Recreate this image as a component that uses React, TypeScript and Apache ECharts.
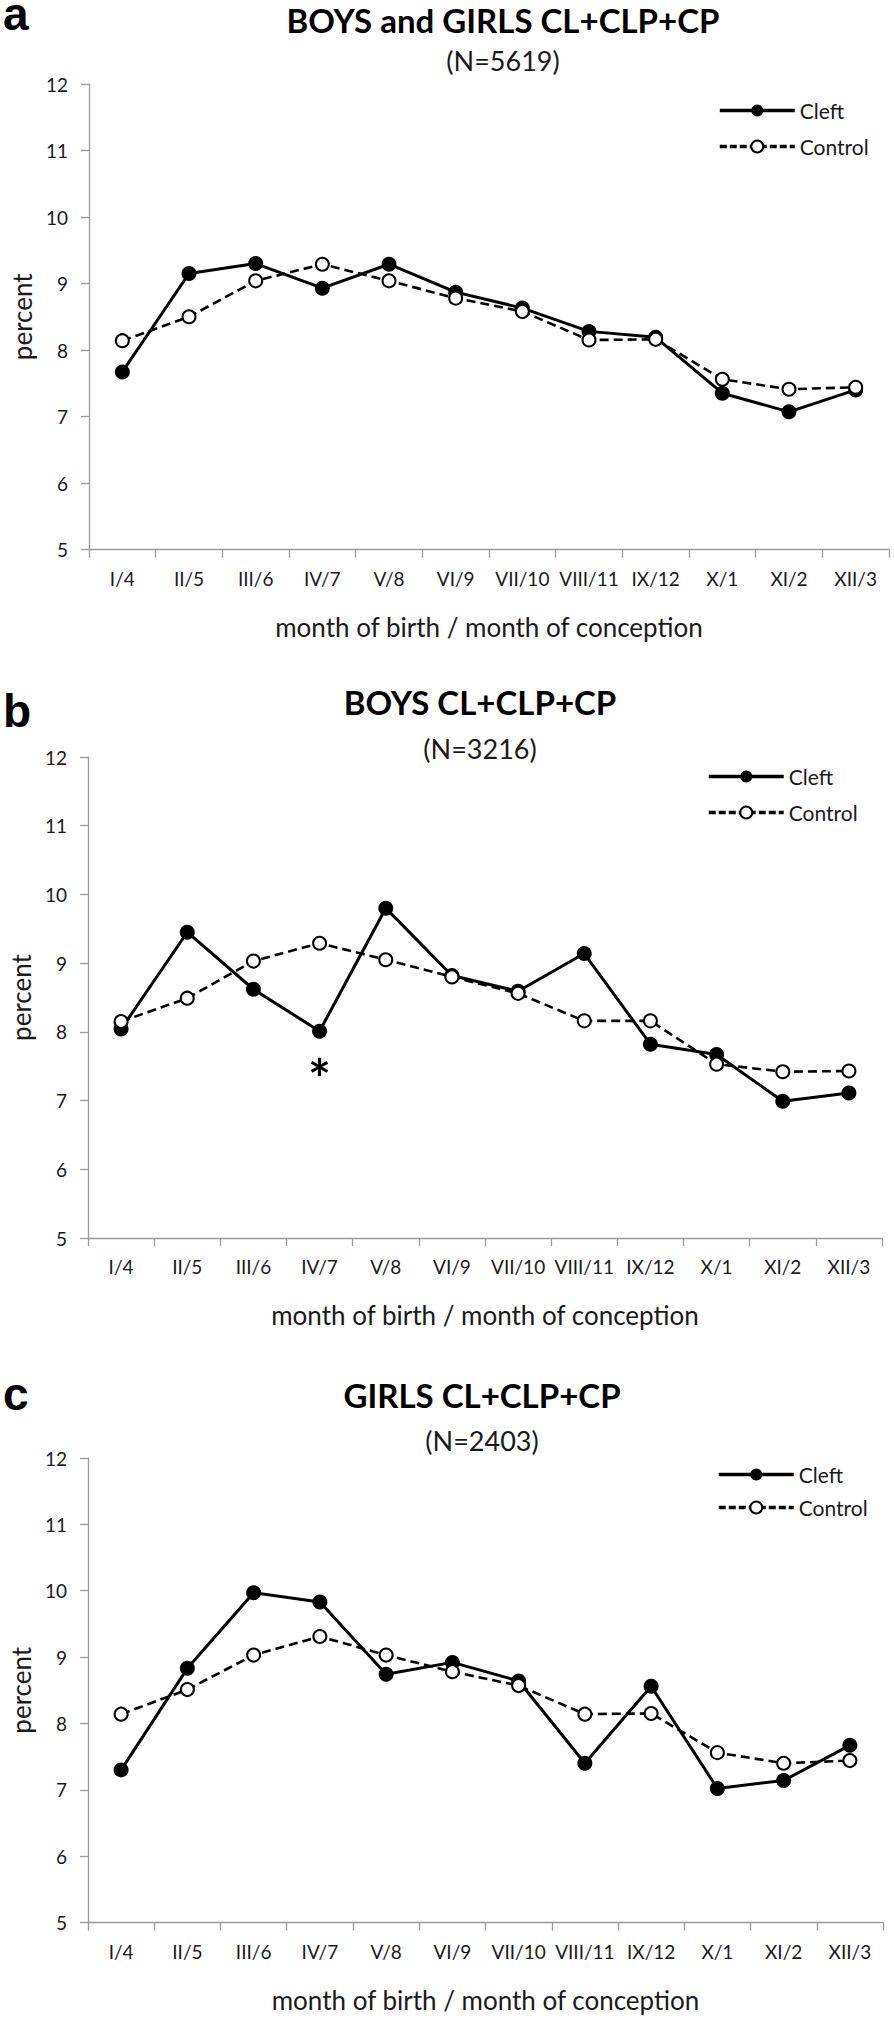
import React, { useEffect, useRef } from "react";
import * as echarts from "echarts";

const categories = ["I/4", "II/5", "III/6", "IV/7", "V/8", "VI/9", "VII/10", "VIII/11", "IX/12", "X/1", "XI/2", "XII/3"];
const seriesNames = ["Cleft", "Control"];
const panelLetters = ["a", "b", "c"];
const panelTitles = ["BOYS and GIRLS CL+CLP+CP", "BOYS CL+CLP+CP", "GIRLS CL+CLP+CP"];
const panelSubtitles = ["(N=5619)", "(N=3216)", "(N=2403)"];
const xAxisTitle = "month of birth / month of conception";
const yAxisTitle = "percent";
const yMin = 5;
const yMax = 12;
const yStep = 1;

const cleftA = [7.67, 9.15, 9.3, 8.93, 9.29, 8.87, 8.63, 8.28, 8.19, 7.35, 7.07, 7.4];
const controlA = [8.14, 8.5, 9.04, 9.29, 9.04, 8.78, 8.58, 8.15, 8.16, 7.56, 7.41, 7.44];
const cleftB = [8.04, 9.45, 8.62, 8.01, 9.8, 8.82, 8.59, 9.14, 7.82, 7.67, 6.99, 7.11];
const controlB = [8.15, 8.49, 9.03, 9.29, 9.05, 8.8, 8.56, 8.16, 8.16, 7.53, 7.42, 7.43];
const cleftC = [7.3, 8.83, 9.97, 9.83, 8.74, 8.92, 8.64, 7.4, 8.56, 7.02, 7.14, 7.67];
const controlC = [8.14, 8.51, 9.03, 9.31, 9.03, 8.78, 8.57, 8.14, 8.15, 7.56, 7.4, 7.44];
const significantMark = "*";
const significantPanel = 1;
const significantIndex = 3;

const FONT = "Lato, 'Open Sans', sans-serif";
const AXIS_GRAY = "#9a9a9a";
const TEXT = "#1a1a1a";

const grids = [
  { left: 89, top: 84, width: 800, height: 465.5 },
  { left: 87, top: 757, width: 795, height: 481 },
  { left: 83, top: 1458, width: 800, height: 464.5 },
];
const titlePos = [
  { x: 503, ty: 20, sy: 60, ly: 14 },
  { x: 480, ty: 702, sy: 748, ly: 711 },
  { x: 482, ty: 1395, sy: 1440, ly: 1394 },
];
const legendPos = [
  { left: 718, top: 100, gap: 15 },
  { left: 707, top: 766, gap: 15 },
  { left: 717, top: 1464, gap: 12 },
];

export default function App() {
  const ref = useRef<HTMLDivElement>(null);
  useEffect(() => {
    document.body.style.margin = "0";
    const chart = echarts.init(ref.current!, null, { renderer: "svg" });
    const data = [
      [cleftA, controlA],
      [cleftB, controlB],
      [cleftC, controlC],
    ];
    const option: any = {
      animation: false,
      backgroundColor: "#fff",
      grid: grids,
      xAxis: grids.map((_, i) => ({
        type: "category",
        gridIndex: i,
        data: categories,
        boundaryGap: true,
        axisLine: { lineStyle: { color: AXIS_GRAY, width: 1.3 } },
        axisTick: { show: true, length: 8, lineStyle: { color: AXIS_GRAY, width: 1.3 } },
        axisLabel: { interval: 0, margin: 19, fontSize: 19, fontFamily: FONT, color: TEXT },
        splitLine: { show: false },
        name: xAxisTitle,
        nameLocation: "middle",
        nameGap: 64,
        nameTextStyle: { fontSize: 26, fontFamily: FONT, color: TEXT },
      })),
      yAxis: grids.map((_, i) => ({
        type: "value",
        gridIndex: i,
        min: yMin,
        max: yMax,
        interval: yStep,
        axisLine: { show: true, lineStyle: { color: AXIS_GRAY, width: 1.3 } },
        axisTick: { show: true, length: 8, lineStyle: { color: AXIS_GRAY, width: 1.3 } },
        axisLabel: { margin: 21, fontSize: 19, fontFamily: FONT, color: TEXT },
        splitLine: { show: false },
        name: yAxisTitle,
        nameLocation: "middle",
        nameGap: 54,
        nameTextStyle: { fontSize: 26, fontFamily: FONT, color: TEXT },
      })),
      legend: legendPos.map((l) => ({
        orient: "vertical",
        left: l.left,
        top: l.top,
        padding: 0,
        itemWidth: 75,
        itemHeight: 15,
        itemGap: l.gap,
        selectedMode: false,
        data: [
          { name: seriesNames[0], lineStyle: { width: 3.5, color: "#000" } },
          { name: seriesNames[1], lineStyle: { width: 3.5, color: "#000", type: [7, 3] } },
        ],
        textStyle: { fontSize: 21, fontFamily: FONT, color: TEXT },
      })),
      series: data.flatMap((pair, i) => [
        {
          name: seriesNames[0],
          type: "line",
          xAxisIndex: i,
          yAxisIndex: i,
          data: pair[0],
          symbol: "circle",
          symbolSize: 15,
          lineStyle: { color: "#000", width: 3 },
          itemStyle: { color: "#000" },
          z: 2,
        },
        {
          name: seriesNames[1],
          type: "line",
          xAxisIndex: i,
          yAxisIndex: i,
          data: pair[1],
          symbol: "circle",
          symbolSize: 13,
          lineStyle: { color: "#000", width: 2.6, type: [9, 5] },
          itemStyle: { color: "#fff", borderColor: "#000", borderWidth: 2 },
          z: 3,
        },
      ]),
    };
    chart.setOption(option);

    const pt = chart.convertToPixel({ gridIndex: significantPanel } as any, [
      significantIndex,
      data[significantPanel][0][significantIndex],
    ]) as number[];

    const graphics: any[] = [];
    titlePos.forEach((p, i) => {
      graphics.push({
        type: "text",
        x: 3,
        y: p.ly,
        style: {
          text: panelLetters[i],
          font: "bold 46px 'Liberation Sans', Arial, sans-serif",
          lineHeight: 28,
          fill: "#000",
          textAlign: "left",
          textVerticalAlign: "middle",
        },
      });
      graphics.push({
        type: "text",
        x: p.x,
        y: p.ty,
        style: {
          text: panelTitles[i],
          font: `bold 33px ${FONT}`,
          fill: "#000",
          textAlign: "center",
          textVerticalAlign: "middle",
        },
      });
      graphics.push({
        type: "text",
        x: p.x,
        y: p.sy,
        style: {
          text: panelSubtitles[i],
          font: `27px ${FONT}`,
          fill: TEXT,
          textAlign: "center",
          textVerticalAlign: "middle",
        },
      });
    });
    graphics.push({
      type: "text",
      x: pt[0],
      y: pt[1] + 46,
      style: {
        text: significantMark,
        font: `bold 54px ${FONT}`,
        fill: "#000",
        textAlign: "center",
        textVerticalAlign: "middle",
      },
    });
    chart.setOption({ graphic: graphics });
    return () => chart.dispose();
  }, []);
  return <div ref={ref} style={{ width: 894, height: 2019 }} />;
}
